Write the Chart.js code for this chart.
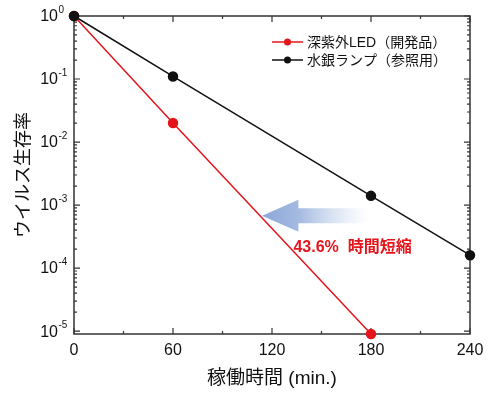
<!DOCTYPE html>
<html>
<head>
<meta charset="utf-8">
<script src="https://cdn.jsdelivr.net/npm/chart.js@4"></script>
<style>
  html, body { margin: 0; padding: 0; background: #fff; }
  #wrap { width: 500px; height: 398px; }
</style>
</head>
<body>
<div id="wrap"><canvas id="chart" width="500" height="398"></canvas></div>
<script>
// Data
const ledLabel = "深紫外LED（開発品）";
const ledTimes = [0, 60, 180];
const ledSurvival = [1, 0.02, 0.000009];

const lampLabel = "水銀ランプ（参照用）";
const lampTimes = [0, 60, 180, 240];
const lampSurvival = [1, 0.11, 0.0014, 0.00016];

const xTicks = [0, 60, 120, 180, 240];
const yExponents = [0, -1, -2, -3, -4, -5];

const noteText = "43.6%  時間短縮";

const FONT = "'Liberation Sans', 'Noto Sans CJK JP', sans-serif";
const RED = "#e5141b";
const BLACK = "#111111";

function toPoints(xs, ys) {
    return xs.map((x, i) => ({ x: x, y: ys[i] }));
}

// Box frame with inward ticks on all four sides
const framePlugin = {
    id: "frame",
    beforeDatasetsDraw(chart) {
        const { ctx, chartArea: a, scales } = chart;
        const xs = scales.x, ys = scales.y;
        ctx.save();
        ctx.strokeStyle = "#333";
        ctx.lineWidth = 1.5;
        ctx.strokeRect(a.left, a.top, a.right - a.left, a.bottom - a.top);

        ctx.lineWidth = 1.2;
        ctx.beginPath();
        // x ticks: major every 60, minor every 30
        for (let v = 0; v <= 240; v += 30) {
            const px = xs.getPixelForValue(v);
            const len = v % 60 === 0 ? 6 : 3;
            ctx.moveTo(px, a.bottom); ctx.lineTo(px, a.bottom - len);
            ctx.moveTo(px, a.top); ctx.lineTo(px, a.top + len);
        }
        // y ticks: decades major, 2..9 minor
        yExponents.forEach(e => {
            for (let m = 1; m <= 9; m++) {
                const v = m * Math.pow(10, e);
                if (v < ys.min || v > ys.max) continue;
                const py = ys.getPixelForValue(v);
                const len = m === 1 ? 6 : 3;
                ctx.moveTo(a.left, py); ctx.lineTo(a.left + len, py);
                ctx.moveTo(a.right, py); ctx.lineTo(a.right - len, py);
            }
        });
        ctx.stroke();

        // y tick labels as 10 with superscript exponent
        ctx.fillStyle = BLACK;
        ctx.textBaseline = "middle";
        yExponents.forEach(e => {
            const py = ys.getPixelForValue(Math.pow(10, e));
            const supX = a.left - 16;
            ctx.font = "16px " + FONT;
            ctx.textAlign = "right";
            ctx.fillText("10", supX, py + 1);
            ctx.font = "10px " + FONT;
            ctx.textAlign = "left";
            ctx.fillText(e === 0 ? "0" : "-" + Math.abs(e), supX + 0.5, py - 6);
        });

        // arrow (drawn under the lines)
        const tipX = xs.getPixelForValue(114);
        const baseX = xs.getPixelForValue(136);
        const tailX = xs.getPixelForValue(179);
        const cy = ys.getPixelForValue(0.00068);
        const grad = ctx.createLinearGradient(tipX, 0, tailX, 0);
        grad.addColorStop(0, "rgba(140,166,215,1)");
        grad.addColorStop(0.35, "rgba(160,183,224,0.95)");
        grad.addColorStop(1, "rgba(200,215,240,0)");
        ctx.fillStyle = grad;
        ctx.beginPath();
        ctx.moveTo(tipX, cy);
        ctx.lineTo(baseX, cy - 16);
        ctx.lineTo(baseX, cy - 7.5);
        ctx.lineTo(tailX, cy - 7.5);
        ctx.lineTo(tailX, cy + 7.5);
        ctx.lineTo(baseX, cy + 7.5);
        ctx.lineTo(baseX, cy + 16);
        ctx.closePath();
        ctx.fill();
        ctx.restore();
    },
    afterDraw(chart) {
        const { ctx, chartArea: a, scales } = chart;
        ctx.save();
        // annotation text
        ctx.font = "bold 16px " + FONT;
        ctx.fillStyle = RED;
        ctx.textAlign = "left";
        ctx.textBaseline = "middle";
        ctx.fillText(noteText, scales.x.getPixelForValue(133), scales.y.getPixelForValue(0.00021));

        // legend: line with a dot in the middle
        const rows = chart.data.datasets;
        rows.forEach((ds, i) => {
            const y = a.top + 26 + i * 18;
            const x0 = a.left + 198;
            ctx.strokeStyle = ds.borderColor;
            ctx.lineWidth = 1.5;
            ctx.beginPath();
            ctx.moveTo(x0, y); ctx.lineTo(x0 + 31, y);
            ctx.stroke();
            ctx.fillStyle = ds.backgroundColor;
            ctx.beginPath();
            ctx.arc(x0 + 15.5, y, 3.5, 0, Math.PI * 2);
            ctx.fill();
            ctx.fillStyle = BLACK;
            ctx.font = "14px " + FONT;
            ctx.textAlign = "left";
            ctx.textBaseline = "middle";
            ctx.fillText(ds.label, x0 + 35, y + 1);
        });
        ctx.restore();
    }
};

const ctx = document.getElementById("chart").getContext("2d");
new Chart(ctx, {
    type: "line",
    data: {
        datasets: [
            {
                label: ledLabel,
                data: toPoints(ledTimes, ledSurvival),
                borderColor: RED,
                backgroundColor: RED,
                borderWidth: 1.5,
                pointRadius: 4.5,
                pointHoverRadius: 4.5,
                order: 1,
                clip: false
            },
            {
                label: lampLabel,
                data: toPoints(lampTimes, lampSurvival),
                borderColor: BLACK,
                backgroundColor: BLACK,
                borderWidth: 1.5,
                pointRadius: 4.5,
                pointHoverRadius: 4.5,
                order: 0,
                clip: false
            }
        ]
    },
    options: {
        responsive: false,
        animation: false,
        layout: { padding: { top: 16, right: 30, left: 0, bottom: 0 } },
        plugins: {
            legend: { display: false },
            tooltip: { enabled: false }
        },
        scales: {
            x: {
                type: "linear",
                min: 0,
                max: 240,
                afterBuildTicks: s => { s.ticks = xTicks.map(v => ({ value: v })); },
                ticks: { font: { size: 16, family: FONT }, color: BLACK, padding: 7 },
                grid: { display: false, drawTicks: false },
                border: { display: false },
                title: {
                    display: true,
                    text: "稼働時間 (min.)",
                    font: { size: 19, family: FONT },
                    color: BLACK,
                    padding: { top: 4, bottom: 8 }
                },
                afterFit: s => { s.height = 64; }
            },
            y: {
                type: "logarithmic",
                min: 0.000009,
                max: 1,
                ticks: { display: false },
                grid: { display: false, drawTicks: false },
                border: { display: false },
                title: {
                    display: true,
                    text: "ウイルス生存率",
                    font: { size: 18, family: FONT },
                    color: BLACK,
                    padding: { top: 13, bottom: 0 }
                },
                afterFit: s => { s.width = 74; }
            }
        }
    },
    plugins: [framePlugin]
});
</script>
</body>
</html>
